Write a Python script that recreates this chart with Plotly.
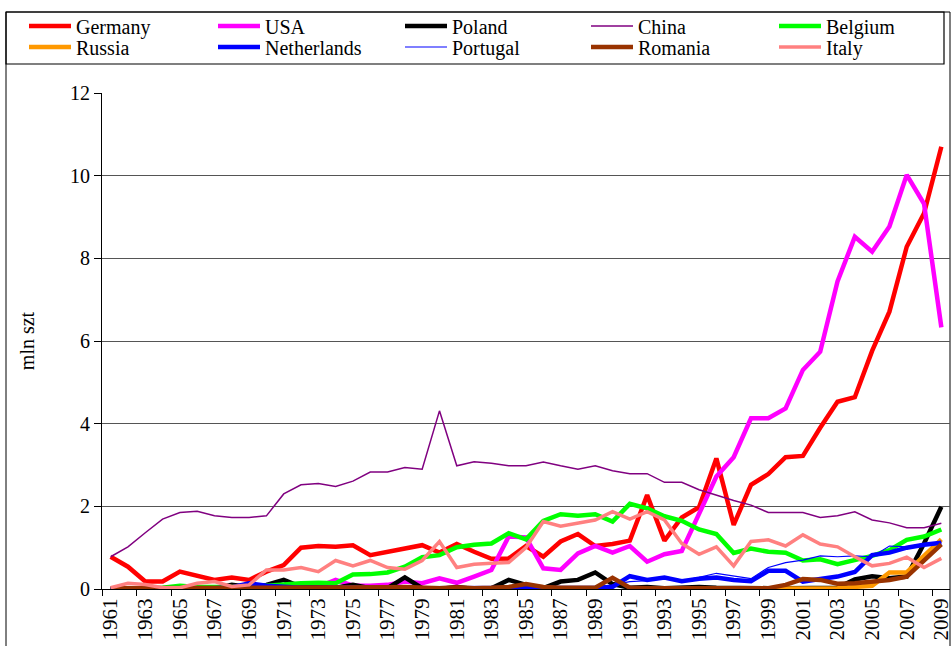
import plotly.graph_objects as go

years = list(range(1961, 2010))

germany = [0.78, 0.54, 0.18, 0.18, 0.42, 0.31, 0.22, 0.28, 0.22, 0.42,
           0.58, 1.00, 1.04, 1.02, 1.06, 0.82, 0.90, 1.00, 1.06, 0.88,
           1.09, 0.90, 0.73, 0.74, 1.04, 0.78, 1.15, 1.33, 1.04, 1.09,
           1.17, 2.27, 1.17, 1.73, 1.98, 3.16, 1.55, 2.52, 2.78, 3.19,
           3.22, 3.90, 4.53, 4.64, 5.76, 6.71, 8.28, 9.09, 10.70]
usa = [0.00, 0.00, 0.00, 0.00, 0.00, 0.00, 0.00, 0.00, 0.00, 0.00,
       0.02, 0.03, 0.05, 0.22, 0.08, 0.08, 0.10, 0.18, 0.14, 0.26,
       0.15, 0.30, 0.46, 1.27, 1.25, 0.50, 0.46, 0.86, 1.04, 0.88,
       1.04, 0.66, 0.84, 0.92, 1.80, 2.72, 3.19, 4.13, 4.13, 4.37,
       5.30, 5.74, 7.44, 8.52, 8.16, 8.77, 10.02, 9.32, 6.33]
poland = [0.00, 0.00, 0.00, 0.00, 0.00, 0.00, 0.02, 0.10, 0.05, 0.10,
          0.22, 0.05, 0.03, 0.03, 0.10, 0.02, 0.02, 0.28, 0.02, 0.00,
          0.05, 0.00, 0.02, 0.22, 0.10, 0.02, 0.18, 0.22, 0.40, 0.12,
          0.03, 0.05, 0.02, 0.03, 0.05, 0.03, 0.02, 0.02, 0.02, 0.02,
          0.02, 0.02, 0.03, 0.23, 0.31, 0.26, 0.30, 1.10, 1.99]
china = [0.78, 1.02, 1.36, 1.69, 1.85, 1.88, 1.77, 1.73, 1.73, 1.77,
         2.30, 2.52, 2.55, 2.48, 2.61, 2.83, 2.83, 2.94, 2.90, 4.31,
         2.98, 3.08, 3.04, 2.98, 2.98, 3.07, 2.98, 2.90, 2.98, 2.86,
         2.79, 2.79, 2.58, 2.58, 2.40, 2.27, 2.14, 2.03, 1.85, 1.85,
         1.85, 1.73, 1.77, 1.87, 1.67, 1.60, 1.48, 1.48, 1.59]
belgium = [0.00, 0.00, 0.02, 0.03, 0.08, 0.05, 0.05, 0.06, 0.05, 0.08,
           0.12, 0.14, 0.15, 0.14, 0.35, 0.36, 0.40, 0.54, 0.77, 0.82,
           1.01, 1.07, 1.10, 1.35, 1.20, 1.65, 1.81, 1.77, 1.81, 1.63,
           2.06, 1.95, 1.76, 1.65, 1.44, 1.33, 0.87, 0.98, 0.90, 0.88,
           0.69, 0.72, 0.60, 0.69, 0.80, 0.94, 1.19, 1.27, 1.44]
russia = [None] * 31 + [0.00, 0.00, 0.00, 0.00, 0.00, 0.00, 0.00,
                        0.00, 0.00, 0.00, 0.00, 0.02, 0.05, 0.08, 0.40, 0.40, 0.80, 1.20]
netherlands = [0.00, 0.00, 0.00, 0.00, 0.00, 0.00, 0.02, 0.04, 0.14, 0.08,
               0.05, 0.03, 0.03, 0.04, 0.04, 0.03, 0.04, 0.03, 0.02, 0.02,
               0.02, 0.02, 0.02, 0.02, 0.02, 0.02, 0.02, 0.03, 0.03, 0.05,
               0.31, 0.22, 0.28, 0.19, 0.25, 0.28, 0.22, 0.19, 0.44, 0.44,
               0.18, 0.24, 0.30, 0.41, 0.82, 0.88, 1.00, 1.07, 1.12]
portugal = [0.02, 0.02, 0.02, 0.02, 0.02, 0.02, 0.02, 0.02, 0.02, 0.02,
            0.02, 0.02, 0.02, 0.02, 0.02, 0.02, 0.02, 0.02, 0.02, 0.02,
            0.02, 0.02, 0.02, 0.02, 0.02, 0.05, 0.05, 0.05, 0.05, 0.10,
            0.18, 0.20, 0.25, 0.20, 0.28, 0.38, 0.32, 0.25, 0.52, 0.64,
            0.70, 0.80, 0.78, 0.80, 0.78, 1.04, 1.02, 1.10, 1.12]
romania = [0.02] * 16 + [0.04, 0.05, 0.03, 0.02, 0.04, 0.02, 0.03, 0.05, 0.12, 0.05,
                         0.03, 0.03, 0.03, 0.27, 0.03, 0.02, 0.02, 0.02, 0.02, 0.02,
                         0.02, 0.02, 0.02, 0.10, 0.24, 0.22, 0.13, 0.14, 0.18, 0.22,
                         0.30, 0.68, 1.08]
italy = [0.03, 0.14, 0.11, 0.03, 0.03, 0.14, 0.18, 0.06, 0.10, 0.46,
         0.46, 0.52, 0.42, 0.69, 0.56, 0.69, 0.52, 0.48, 0.69, 1.15,
         0.52, 0.60, 0.62, 0.64, 1.00, 1.63, 1.52, 1.60, 1.67, 1.87,
         1.69, 1.87, 1.67, 1.10, 0.84, 1.02, 0.56, 1.15, 1.19, 1.04,
         1.31, 1.09, 1.02, 0.78, 0.56, 0.62, 0.77, 0.52, 0.74]

series_names = ["Germany", "USA", "Poland", "China", "Belgium",
                "Russia", "Netherlands", "Portugal", "Romania", "Italy"]
series_values = [germany, usa, poland, china, belgium,
                 russia, netherlands, portugal, romania, italy]
series_colors = ["#FF0000", "#FF00FF", "#000000", "#800080", "#00FF00",
                 "#FF9900", "#0000FF", "#0000FF", "#993300", "#FF8080"]
series_widths = [4.5, 4.5, 4.5, 1.5, 4.5, 4.5, 4.5, 1.2, 4.5, 3.5]

y_ticks = [0, 2, 4, 6, 8, 10, 12]
x_ticks = list(range(1961, 2010, 2))
y_title = "mln szt"

for v in series_values:
    assert len(v) == len(years), len(v)

W, H = 951, 646
ML, MR, MT, MB = 102, 1, 93, 57
PW, PH = W - ML - MR, H - MT - MB
FONT = "Liberation Serif"


def px_x(p):
    return (p - ML) / PW


def px_y(p):
    return (H - MB - p) / PH


# legend grid: 5 columns x 2 rows (pixel anchors of each entry)
leg_cols = [24, 213, 400, 586, 774]
leg_rows = [26, 47]

fig = go.Figure()
legends = {}
for i, (name, vals, col, lw) in enumerate(zip(series_names, series_values, series_colors, series_widths)):
    lid = "legend" if i == 0 else f"legend{i + 1}"
    fig.add_trace(go.Scatter(
        x=years, y=vals, name=name, mode="lines",
        line=dict(color=col, width=lw),
        legend=lid,
    ))
    legends[lid] = dict(
        xref="paper", yref="paper",
        x=px_x(leg_cols[i % 5]), y=px_y(leg_rows[i // 5]),
        xanchor="left", yanchor="middle",
        orientation="v", itemwidth=42,
        font=dict(family=FONT, size=20, color="black"),
        bgcolor="rgba(0,0,0,0)", borderwidth=0,
    )

shapes = [
    dict(type="rect", xref="paper", yref="paper",
         x0=px_x(6), x1=px_x(950), y0=px_y(680), y1=px_y(12),
         line=dict(color="black", width=1), layer="below"),
    dict(type="rect", xref="paper", yref="paper",
         x0=px_x(6), x1=px_x(944), y0=px_y(64), y1=px_y(12),
         line=dict(color="black", width=1.2)),
]

fig.update_layout(
    width=W, height=H,
    margin=dict(l=ML, r=MR, t=MT, b=MB, autoexpand=False),
    paper_bgcolor="white", plot_bgcolor="white",
    font=dict(family=FONT, size=20, color="black"),
    showlegend=True,
    shapes=shapes,
    xaxis=dict(
        range=[1960.5, 2009.5], tickmode="array", tickvals=x_ticks,
        ticktext=[str(t) for t in x_ticks], tickangle=-90,
        ticks="", showgrid=False, zeroline=False,
        showline=True, linecolor="black", linewidth=1,
        ticklabeloverflow="allow",
        tickfont=dict(family=FONT, size=21, color="black"),
        minor=dict(tickvals=[1960.5 + 2 * k for k in range(25)],
                   ticks="outside", ticklen=6, tickcolor="black", tickwidth=1,
                   showgrid=False),
    ),
    yaxis=dict(
        range=[0, 12], tickmode="array", tickvals=y_ticks,
        ticks="outside", ticklen=7, tickcolor="black", tickwidth=1,
        showgrid=True, gridcolor="#555555", gridwidth=1,
        zeroline=False, showline=True, linecolor="black", linewidth=1,
        tickfont=dict(family=FONT, size=20, color="black"),
        title=dict(text=y_title, font=dict(family=FONT, size=20, color="black"), standoff=30),
    ),
    **legends,
)

fig.write_html(
    "out.html",
    config={"displayModeBar": False},
    post_script="document.body.style.margin='0px';document.body.style.overflow='hidden';",
)
